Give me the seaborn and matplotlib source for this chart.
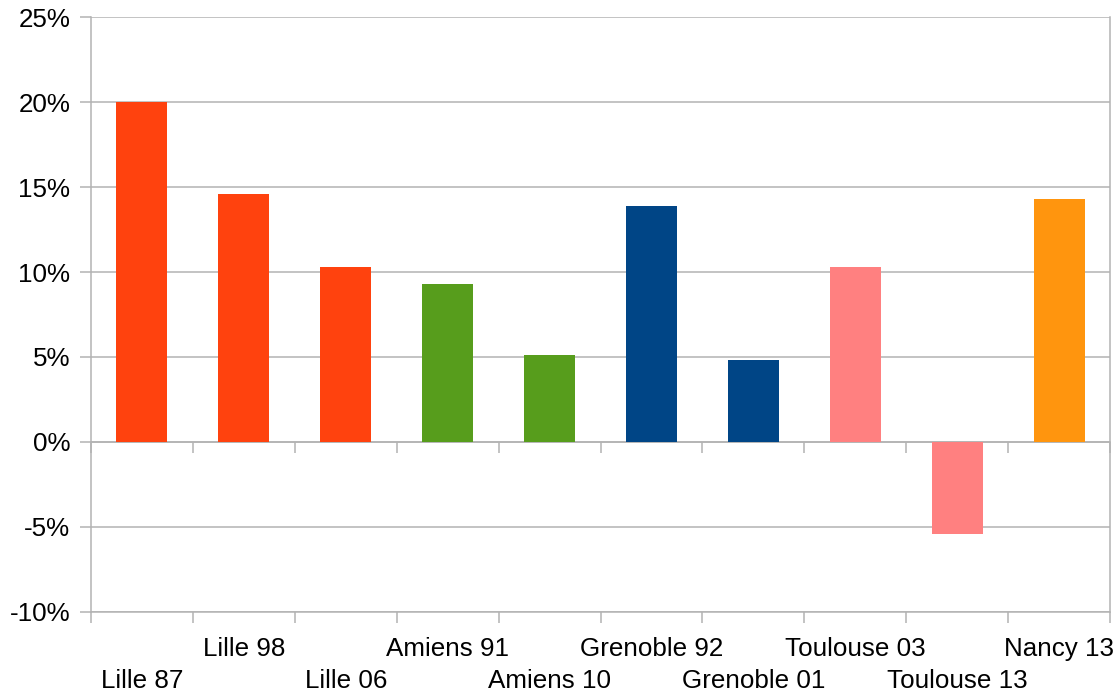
import matplotlib
matplotlib.use("Agg")
import matplotlib.pyplot as plt
import matplotlib.ticker as mticker
import seaborn as sns
import pandas as pd
import numpy as np

# Data
categories = ["Lille 87", "Lille 98", "Lille 06", "Amiens 91", "Amiens 10",
              "Grenoble 92", "Grenoble 01", "Toulouse 03", "Toulouse 13", "Nancy 13"]
values = [20.0, 14.6, 10.3, 9.3, 5.1, 13.9, 4.8, 10.3, -5.4, 14.3]
colors = ["#FF420E", "#FF420E", "#FF420E", "#579D1C", "#579D1C",
          "#004586", "#004586", "#FF8080", "#FF8080", "#FF950E"]
y_ticks = [-10, -5, 0, 5, 10, 15, 20, 25]

sns.set_theme(style="white")
plt.rcParams["font.family"] = ["Liberation Sans", "DejaVu Sans"]

grid_color = "#B3B3B3"
font_size = 18.7
W, H = 1119, 692
fig = plt.figure(figsize=(W / 100, H / 100), dpi=100)
ax = fig.add_axes([91 / W, 1 - 611.7 / H, (1110 - 91) / W, (611.7 - 17.3) / H])

df = pd.DataFrame({"cat": categories, "val": values})
sns.barplot(data=df, x="cat", y="val", hue="cat", palette=colors,
            width=0.5, saturation=1, legend=False, ax=ax, zorder=3,
            linewidth=0, edgecolor="none")

ymin, ymax = y_ticks[0], y_ticks[-1]
ax.set_ylim(ymin, ymax)
ax.set_xlim(-0.5, len(categories) - 0.5)
ax.set_xlabel("")
ax.set_ylabel("")

# y axis: percent labels with outward ticks and horizontal gridlines
ax.set_yticks(y_ticks)
ax.set_yticklabels([f"{t}%" for t in y_ticks], fontsize=font_size, color="black")
ax.yaxis.grid(True, color=grid_color, linewidth=1.1, zorder=0)
ax.set_axisbelow(True)

# x axis: staggered category labels, ticks on category boundaries
ax.set_xticks(range(len(categories)))
ax.set_xticklabels(categories, fontsize=font_size, color="black")
ax.xaxis.set_minor_locator(mticker.FixedLocator(np.arange(-0.5, len(categories), 1.0)))
ax.tick_params(axis="x", which="major", length=0)
for i, tick in enumerate(ax.xaxis.get_major_ticks()):
    tick.set_pad(41.5 if i % 2 == 0 else 18)
ax.tick_params(axis="x", which="minor", length=8, width=1.1, color=grid_color,
               direction="out", bottom=True)
ax.tick_params(axis="y", which="major", length=8, width=1.1, color=grid_color,
               direction="out", left=True, pad=7)

for side in ["left", "right", "bottom"]:
    ax.spines[side].set_color(grid_color)
    ax.spines[side].set_linewidth(1.1)
ax.spines["top"].set_visible(False)

# category axis line at 0% with boundary ticks
zero_pos = (0 - ymin) / (ymax - ymin)
sec = ax.secondary_xaxis(zero_pos)
sec.set_xticks(np.arange(-0.5, len(categories), 1.0))
sec.set_xticklabels([])
sec.tick_params(axis="x", length=8, width=1.1, color=grid_color, direction="out")
sec.spines["bottom"].set_color(grid_color)
sec.spines["bottom"].set_linewidth(1.1)
sec.spines["bottom"].set_zorder(4)

fig.savefig("out.png", dpi=100, facecolor="white")
